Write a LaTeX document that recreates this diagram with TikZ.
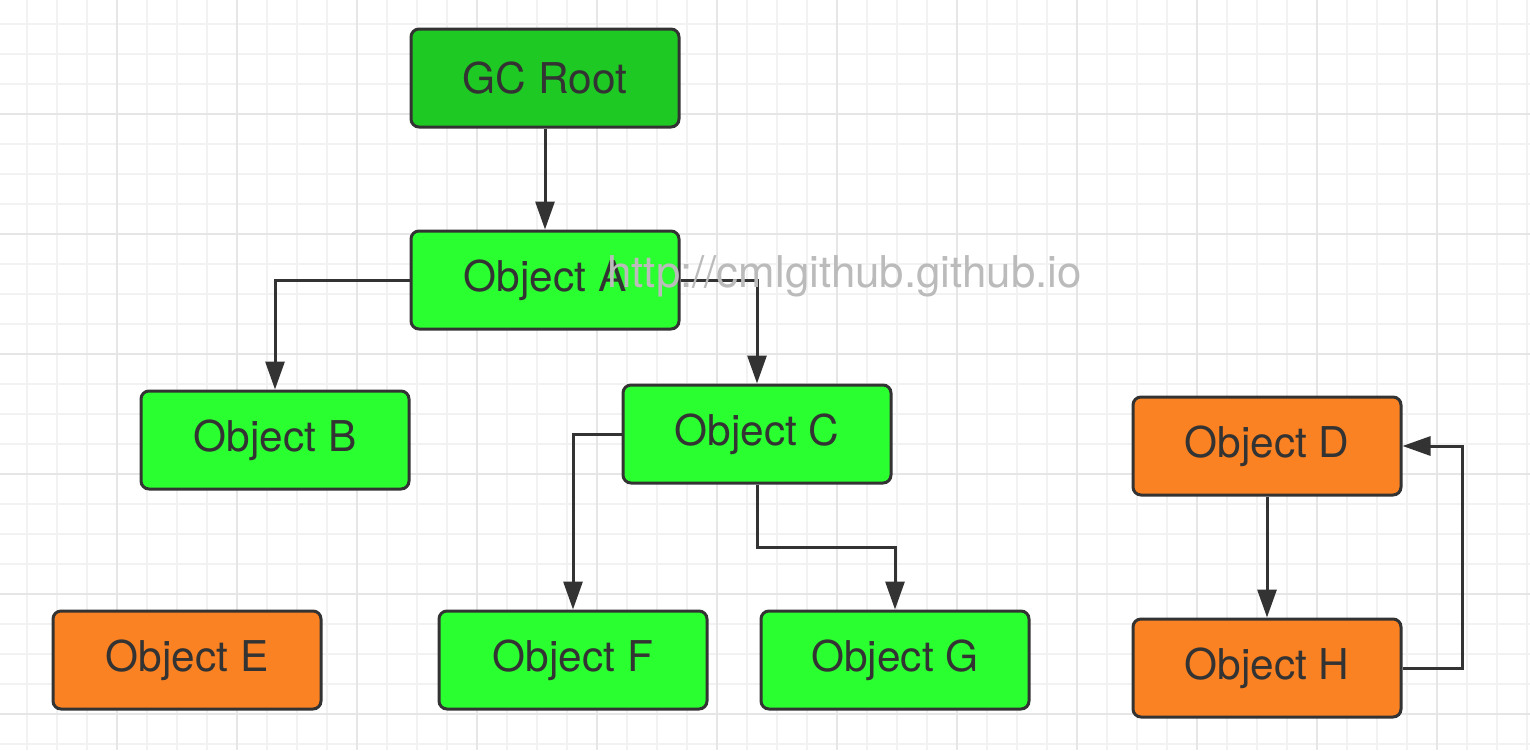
\documentclass[tikz,border=0pt]{standalone}
\usepackage{fontspec}
\setmainfont{TeX Gyre Heros}
\usetikzlibrary{arrows.meta}
\definecolor{rootgreen}{RGB}{31,201,35}
\definecolor{livegreen}{RGB}{42,255,48}
\definecolor{deadorange}{RGB}{251,130,34}
\definecolor{linegray}{RGB}{51,51,51}
\definecolor{minorgray}{RGB}{242,242,242}
\definecolor{majorgray}{RGB}{230,230,230}
\definecolor{markgray}{RGB}{187,187,187}
\tikzset{
	objbox/.style = {draw = linegray, line width = 1.5pt, rounded corners = 4pt,
		minimum width = 134pt, minimum height = 49pt, text = linegray,
		font = \fontsize{21.2}{24}\selectfont},
	arr/.style = {draw = linegray, line width = 1.5pt, -{Triangle[length = 14pt, width = 9.5pt]}},
	minorline/.style = {draw = minorgray, line width = 1pt},
	majorline/.style = {draw = majorgray, line width = 1pt}
}
\begin{document}
\begin{tikzpicture}[x = 0.5pt, y = -0.5pt]
		% Hintergrund
		\useasboundingbox (0, 0) rectangle (1530, 750);
		\fill [white] (0, 0) rectangle (1530, 750);
		\foreach \gx in {27, 57, ..., 1527} \draw [minorline] (\gx, 0) -- (\gx, 750);
		\foreach \gy in {24, 54, ..., 744} \draw [minorline] (0, \gy) -- (1530, \gy);
		\foreach \gx in {117, 237, ..., 1437} \draw [majorline] (\gx, 0) -- (\gx, 750);
		\foreach \gy in {114, 234, ..., 714} \draw [majorline] (0, \gy) -- (1530, \gy);
		% Erreichbare Objekte
		\node [objbox, fill = rootgreen] (root) at (545, 78) {GC Root};
		\node [objbox, fill = livegreen] (objA) at (545, 280) {Object A};
		\node [objbox, fill = livegreen] (objB) at (275, 440) {Object B};
		\node [objbox, fill = livegreen] (objC) at (757, 434) {Object C};
		\node [objbox, fill = livegreen] (objF) at (573, 660) {Object F};
		\node [objbox, fill = livegreen] (objG) at (895, 660) {Object G};
		% Unerreichbare Objekte
		\node [objbox, fill = deadorange] (objE) at (187, 660) {Object E};
		\node [objbox, fill = deadorange] (objD) at (1267, 446) {Object D};
		\node [objbox, fill = deadorange] (objH) at (1267, 668) {Object H};
		% Referenzen
		\draw [arr] (root) -- (objA);
		\draw [arr] (objA.west) -| (objB.north);
		\draw [arr] (objA.east) -| (objC.north);
		\draw [arr] (objC.west) -| (objF.north);
		\draw [arr] (objC.south) -- ++(0, 63) -| (objG.north);
		\draw [arr] (objD) -- (objH);
		\draw [arr] (objH.east) -- ++(60, 0) |- (objD.east);
		% Wasserzeichen
		\node [anchor = base west, inner sep = 0pt, text = markgray,
			font = \fontsize{21.9}{24}\selectfont] (wmark) at (607, 287) {http://cmlgithub.github.io};
	\end{tikzpicture}
\end{document}
